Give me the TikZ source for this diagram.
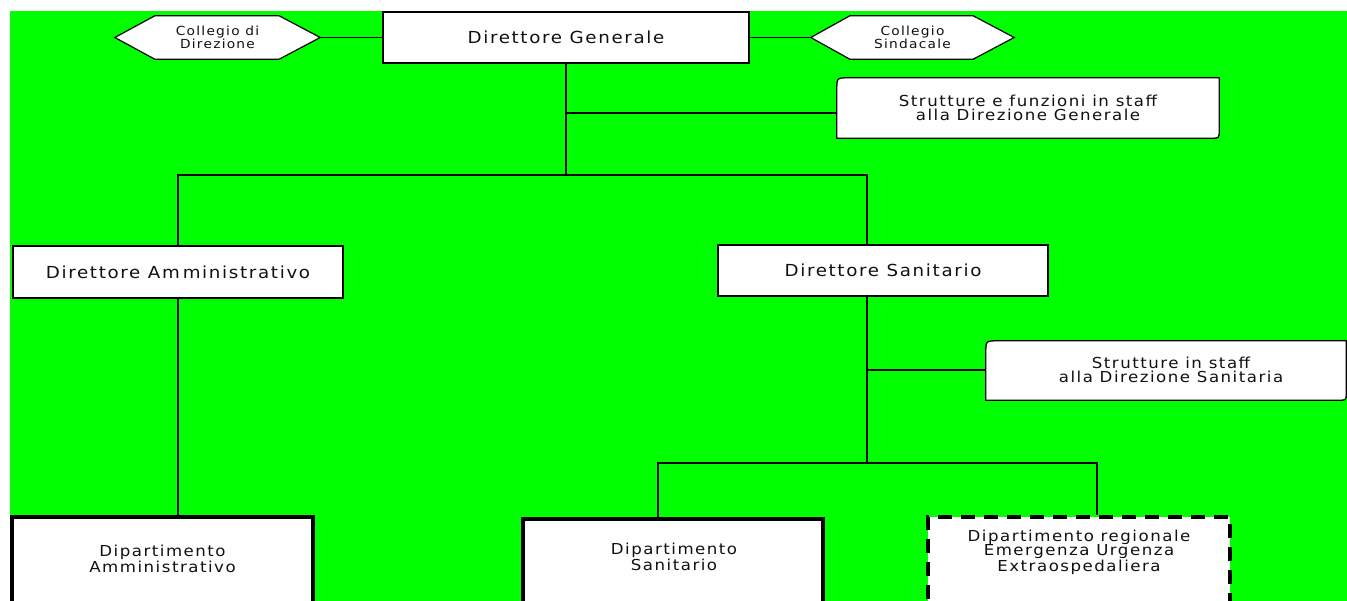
\documentclass[tikz,border=0pt]{standalone}
\usepackage{fontspec}
\setmainfont{DejaVu Sans}[LetterSpace=10,FakeStretch=1.1]
\definecolor{bggreen}{HTML}{00FF00}
\definecolor{txt}{HTML}{111111}
\tikzset{
  conn/.style={draw=black, line width=1.3pt},
  mainbox/.style={draw=black, line width=1.3pt, fill=white, inner sep=0pt, align=center,
    text=txt, font=\fontsize{16.6}{18}\selectfont},
  hexlbl/.style={inner sep=0pt, align=center, text=txt, font=\fontsize{12.5}{11.5}\selectfont},
  hexline/.style={draw=black, line width=1.2pt, fill=white},
  stafflbl/.style={inner sep=0pt, align=center, text=txt, font=\fontsize{15.1}{14}\selectfont},
  staffline/.style={draw=black, line width=1.3pt, fill=white},
  depbox/.style={draw=black, line width=3.6pt, fill=white, inner sep=0pt},
  depdash/.style={draw=black, line width=3.6pt, fill=white, inner sep=0pt, dash pattern=on 14pt off 9pt},
  deplbl/.style={inner sep=0pt, align=center, text=txt, font=\fontsize{15.1}{14.5}\selectfont}
}
\begin{document}
\begin{tikzpicture}[x=1pt,y=-1pt]
\useasboundingbox (0,0) rectangle (1347,601);
\begin{scope}
\clip (0,0) rectangle (1347,601);
\fill[white] (0,0) rectangle (1347,601);
\fill[bggreen] (10,11) rectangle (1347,601);

% junction coordinates
\coordinate (b1) at (566,175);
\coordinate (bl) at (178,175);
\coordinate (br) at (867,175);
\coordinate (s1) at (566,113);
\coordinate (s2) at (867,370);
\coordinate (b2) at (867,463);
\coordinate (b2l) at (658,463);
\coordinate (b2r) at (1097,463);

% Direttore Generale
\node[mainbox, minimum width=366, minimum height=51] (dg) at (566,37.5) {Direttore Generale};

% Collegio di Direzione (hexagon)
\node[hexlbl, minimum width=205, minimum height=43] (cd) at (217.5,37.5) {};
\path[hexline] (cd.west) -- ([xshift=40pt]cd.north west) -- ([xshift=-41pt]cd.north east)
  -- (cd.east) -- ([xshift=-41pt]cd.south east) -- ([xshift=40pt]cd.south west) -- cycle;
\node[hexlbl] at (cd.center) {Collegio di\\Direzione};

% Collegio Sindacale (hexagon)
\node[hexlbl, minimum width=203, minimum height=43] (cs) at (912.5,37.5) {};
\path[hexline] (cs.west) -- ([xshift=39pt]cs.north west) -- ([xshift=-41pt]cs.north east)
  -- (cs.east) -- ([xshift=-41pt]cs.south east) -- ([xshift=39pt]cs.south west) -- cycle;
\node[hexlbl] at (cs.center) {Collegio\\Sindacale};

\draw[conn] (cd.east) -- (dg.west);
\draw[conn] (dg.east) -- (cs.west);

% Staff Direzione Generale
\node[stafflbl, minimum width=382, minimum height=60] (st1) at (1028,108) {};
\path[staffline] ([yshift=-12pt]st1.north west) .. controls (st1.north west) .. ([xshift=12pt]st1.north west)
  -- (st1.north east) -- ([yshift=8pt]st1.south east) .. controls (st1.south east) .. ([xshift=-8pt]st1.south east)
  -- (st1.south west) -- cycle;
\node[stafflbl] at (st1.center) {Strutture e funzioni in staff\\alla Direzione Generale};

% Direttore Amministrativo / Sanitario
\node[mainbox, minimum width=330, minimum height=52] (da) at (178,272) {Direttore Am\kern3pt ministrativo};
\node[mainbox, minimum width=330, minimum height=51] (ds) at (883,270.5) {Direttore Sanitario};

\draw[conn] (dg.south) -- (b1);
\draw[conn] (s1) -- (s1 -| st1.west);
\draw[conn] (da.north) -- (bl) -- (br) -- (ds.north -| br);

% Staff Direzione Sanitaria
\node[stafflbl, minimum width=360, minimum height=59] (st2) at (1166,370.5) {};
\path[staffline] ([yshift=-12pt]st2.north west) .. controls (st2.north west) .. ([xshift=12pt]st2.north west)
  -- (st2.north east) -- ([yshift=7pt]st2.south east) .. controls (st2.south east) .. ([xshift=-7pt]st2.south east)
  -- (st2.south west) -- cycle;
\node[stafflbl] at (1171,370) {Strutture in staff\\alla Direzione Sanitaria};

% Dipartimenti
\node[depbox, minimum width=301, minimum height=110, anchor=north] (dam) at (162.5,515) {};
\node[deplbl] at (162.5,559) {Dipartimento\\Amministrativo};
\node[depbox, minimum width=300, minimum height=110, anchor=north] (dsan) at (673,517) {};
\node[deplbl] at (674,557) {Dipartimento\\Sanitario};
\node[depdash, minimum width=302, minimum height=110, anchor=north] (dreg) at (1079,515) {};
\node[deplbl] at (1079,552) {Dipartimento regionale\\Emergenza Urgenza\\Extraospedaliera};

\draw[conn] (da.south) -- (da.south |- dam.north);
\draw[conn] (ds.south -| b2) -- (b2);
\draw[conn] (s2) -- (s2 -| st2.west);
\draw[conn] (dsan.north -| b2l) -- (b2l) -- (b2r) -- (dreg.north -| b2r);
\end{scope}
\end{tikzpicture}
\end{document}
